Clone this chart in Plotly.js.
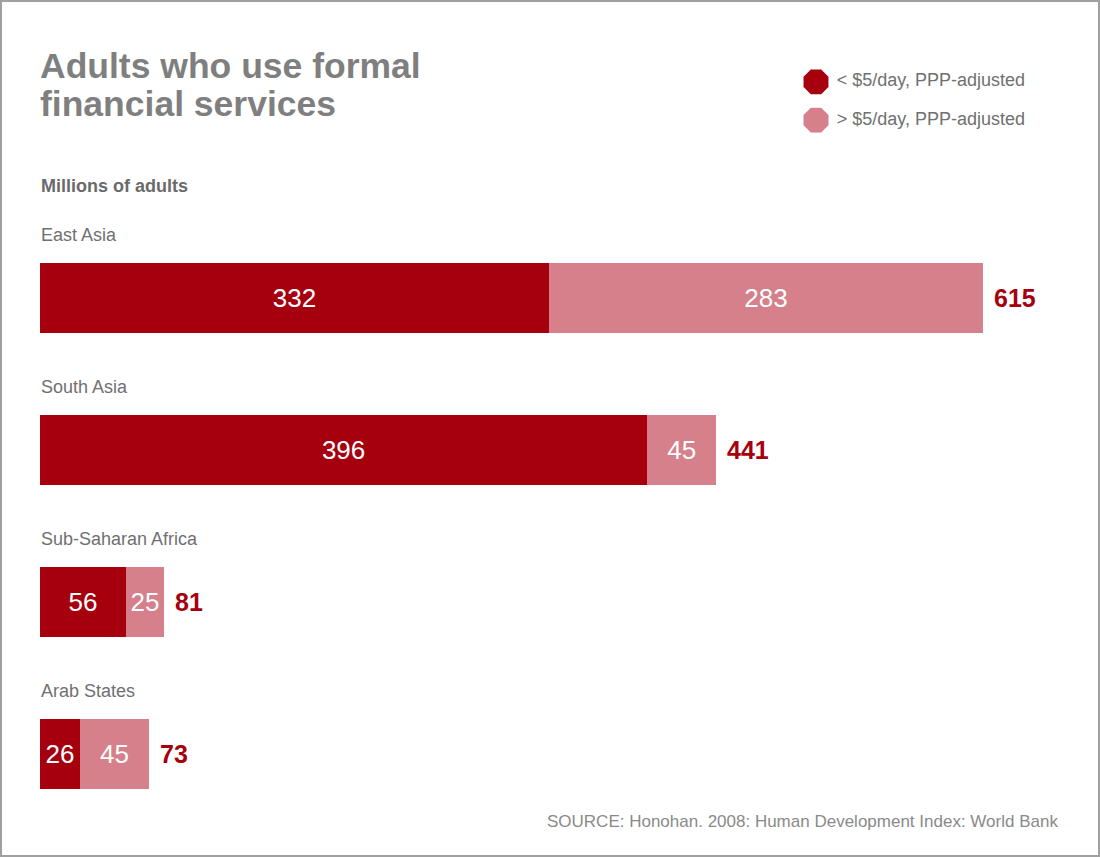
<!DOCTYPE html>
<html>
<head>
<meta charset="utf-8">
<script src="https://cdn.plot.ly/plotly-3.0.1.min.js"></script>
<style>
  html, body { margin: 0; padding: 0; background: #fff; }
  #wrap { position: relative; width: 1100px; height: 857px; }
  #chart { width: 1100px; height: 857px; }
  #frame { position: absolute; left: 0; top: 0; width: 1100px; height: 857px; box-sizing: border-box; border: 2px solid #a0a0a0; pointer-events: none; }
</style>
</head>
<body>
<div id="wrap"><div id="chart"></div><div id="frame"></div></div>
<script>
// ---- data ----
const regions = ["East Asia", "South Asia", "Sub-Saharan Africa", "Arab States"];
const lowIncome = [332, 396, 56, 26];   // < $5/day
const highIncome = [283, 45, 25, 45];   // > $5/day
const totals = [615, 441, 81, 73];
const seriesNames = ["< $5/day, PPP-adjusted", "> $5/day, PPP-adjusted"];
const titleLines = ["Adults who use formal", "financial services"];
const unitLabel = "Millions of adults";
const sourceText = "SOURCE: Honohan. 2008: Human Development Index: World Bank";

// ---- styles ----
const FONT = "Liberation Sans, Arial, sans-serif";
const DARK = "#A6000F";
const PINK = "#D5808A";
const GREY = "#707070";

// page geometry helpers (pixel -> paper)
const ML = 40, MR = 60, MT = 20, MB = 27, W = 1100, H = 857;
const PW = W - ML - MR, PH = H - MT - MB;
const xp = px => (px - ML) / PW;
const yp = py => (H - MB - py) / PH;

const barTrace = (vals, color, name) => ({
  type: "bar", orientation: "h", name: name,
  y: regions, x: vals,
  marker: { color: color, line: { width: 0 } },
  text: vals.map(String), textposition: "inside", insidetextanchor: "middle",
  textangle: 0, constraintext: "none",
  textfont: { family: FONT, size: 26, color: "#ffffff" },
  hoverinfo: "skip", showlegend: false, xaxis: "x", yaxis: "y"
});

const legendMarkers = {
  type: "scatter", mode: "markers",
  x: seriesNames.map(() => 0), y: seriesNames,
  marker: { symbol: "octagon", size: 27, color: [DARK, PINK], line: { width: 0 } },
  cliponaxis: false, hoverinfo: "skip", showlegend: false,
  xaxis: "x2", yaxis: "y2"
};
const legendLabels = {
  type: "scatter", mode: "text",
  x: seriesNames.map(() => 1.3), y: seriesNames,
  text: seriesNames, textposition: "middle right",
  textfont: { family: FONT, size: 18, color: GREY },
  cliponaxis: false, hoverinfo: "skip", showlegend: false,
  xaxis: "x2", yaxis: "y2"
};

const annotations = [];
titleLines.forEach((t, i) => annotations.push({
  xref: "paper", yref: "paper", x: xp(38), y: yp(i === 0 ? 66 : 104),
  xanchor: "left", yanchor: "middle", showarrow: false, text: t,
  font: { family: FONT, size: 35.5, color: "#7f7f7f", weight: "bold" }
}));
annotations.push({
  xref: "paper", yref: "paper", x: xp(39), y: yp(186),
  xanchor: "left", yanchor: "middle", showarrow: false, text: "<b>" + unitLabel + "</b>",
  font: { family: FONT, size: 18, color: "#6a6a6a" }
});
regions.forEach((r, i) => {
  annotations.push({
    xref: "x", yref: "y", x: 0, y: r, xanchor: "left", yanchor: "middle",
    yshift: 63, xshift: -1, showarrow: false, text: r,
    font: { family: FONT, size: 18, color: GREY }
  });
  annotations.push({
    xref: "x", yref: "y", x: lowIncome[i] + highIncome[i], y: r,
    xanchor: "left", yanchor: "middle", xshift: 9, showarrow: false,
    text: "<b>" + totals[i] + "</b>",
    font: { family: FONT, size: 25, color: DARK }
  });
});
annotations.push({
  xref: "paper", yref: "paper", x: xp(1060), y: yp(821),
  xanchor: "right", yanchor: "middle", showarrow: false, text: sourceText,
  font: { family: FONT, size: 17, color: "#8a8a8a" }
});

const layout = {
  width: W, height: H,
  margin: { l: ML, r: MR, t: MT, b: MB, pad: 0 },
  paper_bgcolor: "#ffffff", plot_bgcolor: "#ffffff",
  barmode: "stack", bargap: 0.54,
  showlegend: false, hovermode: false,
  font: { family: FONT },
  xaxis: { domain: [0, 1], range: [0, 615 * PW / 943], visible: false, fixedrange: true, anchor: "y" },
  yaxis: { domain: [0, yp(222)], type: "category", categoryarray: regions, categoryorder: "array",
           autorange: "reversed", visible: false, fixedrange: true, anchor: "x" },
  xaxis2: { domain: [xp(800), 1], range: [-1, 14], visible: false, fixedrange: true, anchor: "y2" },
  yaxis2: { domain: [yp(141), yp(61)], type: "category", categoryarray: seriesNames, categoryorder: "array",
            autorange: "reversed", visible: false, fixedrange: true, anchor: "x2" },
  annotations: annotations
};

Plotly.newPlot("chart", [barTrace(lowIncome, DARK, seriesNames[0]), barTrace(highIncome, PINK, seriesNames[1]), legendMarkers, legendLabels],
  layout, { displayModeBar: false, staticPlot: true });
</script>
</body>
</html>
